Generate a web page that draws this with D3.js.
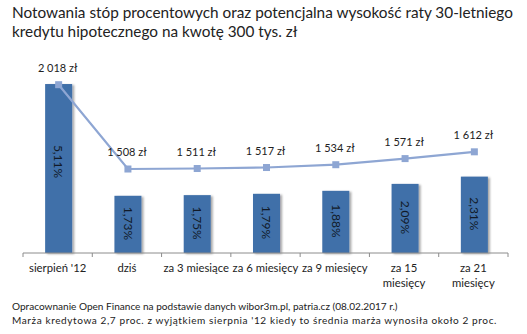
<!DOCTYPE html>
<html><head><meta charset="utf-8">
<script src="https://cdn.jsdelivr.net/npm/d3@7"></script>
<style>body{margin:0;background:#fff}svg{display:block}text{font-family:Lato,"Open Sans",sans-serif}</style>
</head><body>
<script>
const categories = ["sierpień '12","dziś","za 3 miesiące","za 6 miesięcy","za 9 miesięcy","za 15\nmiesięcy","za 21\nmiesięcy"];
const rates = [5.11,1.73,1.75,1.79,1.88,2.09,2.31];
const rateLabels = ["5,11%","1,73%","1,75%","1,79%","1,88%","2,09%","2,31%"];
const installments = [2018,1508,1511,1517,1534,1571,1612];
const installmentLabels = ["2 018 zł","1 508 zł","1 511 zł","1 517 zł","1 534 zł","1 571 zł","1 612 zł"];
const titleLines = ["Notowania stóp procentowych oraz potencjalna wysokość raty 30-letniego","kredytu hipotecznego na kwotę 300 tys. zł"];
const notes = ["Opracownanie Open Finance na podstawie danych wibor3m.pl, patria.cz  (08.02.2017 r.)","Marża kredytowa 2,7 proc. z wyjątkiem sierpnia '12 kiedy to średnia marża wynosiła około 2 proc."];

const W=527,H=334;
const svg=d3.select("body").append("svg").attr("width",W).attr("height",H);
const defs=svg.append("defs");
const f=defs.append("filter").attr("id","sh").attr("x","-20%").attr("y","-5%").attr("width","150%").attr("height","115%");
f.append("feDropShadow").attr("dx",2).attr("dy",1).attr("stdDeviation",1.2).attr("flood-color","#000").attr("flood-opacity",0.35);

function fit(sel,target){const w=sel.node().getComputedTextLength();const fs=parseFloat(sel.attr("font-size"));sel.attr("font-size",fs*target/w);}

const t1=svg.append("text").attr("x",12).attr("y",18).attr("font-size",16).attr("fill","#222").text(titleLines[0]);
fit(t1,501);
const t2=svg.append("text").attr("x",12).attr("y",37).attr("font-size",t1.attr("font-size")).attr("fill","#222").text(titleLines[1]);

const x=d3.scaleBand().domain(categories).range([23,508]).paddingInner(0.61).paddingOuter(0.305);
const xc=d3.scaleBand().domain(categories).range([23,508]);
const y=d3.scaleLinear().domain([0,6]).range([253,54.6]);
const y2=d3.scaleLinear().domain([1000,2200]).range([253,54.6]);

svg.append("g").selectAll("rect").data(rates).join("rect")
 .attr("x",(d,i)=>x(categories[i])+1).attr("width",x.bandwidth())
 .attr("y",d=>y(d)).attr("height",d=>y(0)-y(d))
 .attr("fill","#4170A9").attr("filter","url(#sh)");

svg.append("g").selectAll("text").data(rates).join("text")
 .attr("transform",(d,i)=>`translate(${x(categories[i])+1+x.bandwidth()/2},${(y(d)+y(0))/2 - (i===0?7:1)}) rotate(90)`)
 .attr("text-anchor","middle").attr("dy","0.35em").attr("font-size",12).attr("fill","#111a28")
 .text((d,i)=>rateLabels[i]);

// axis
const ax=svg.append("g").attr("transform","translate(0,253)");
ax.append("line").attr("x1",23).attr("x2",508).attr("stroke","#8c8c8c");
const bounds=categories.map(c=>xc(c)).concat([508]);
ax.selectAll("line.t").data(bounds).join("line").attr("class","t").attr("x1",d=>d).attr("x2",d=>d).attr("y1",0).attr("y2",4).attr("stroke","#8c8c8c");
const cl=svg.append("g").selectAll("text").data(categories).join("text")
 .attr("x",d=>xc(d)+xc.bandwidth()/2).attr("y",272).attr("text-anchor","middle").attr("font-size",11.3).attr("fill","#222");
cl.each(function(d){const s=d.split("\n");d3.select(this).selectAll("tspan").data(s).join("tspan").attr("x",xc(d)+xc.bandwidth()/2).attr("dy",(e,j)=>j?15:0).text(e=>e);});

// line
const cx=i=>xc(categories[i])+xc.bandwidth()/2+1;
svg.append("path").datum(installments).attr("fill","none").attr("stroke","#8EA6D3").attr("stroke-width",2.2)
 .attr("d",d3.line().x((d,i)=>cx(i)).y(d=>y2(d)));
svg.append("g").selectAll("rect").data(installments).join("rect")
 .attr("x",(d,i)=>cx(i)-3.5).attr("y",d=>y2(d)-3.5).attr("width",7).attr("height",7).attr("fill","#8EA6D3");
svg.append("g").selectAll("text").data(installments).join("text")
 .attr("x",(d,i)=>cx(i)-1).attr("y",d=>y2(d)-13).attr("text-anchor","middle").attr("font-size",11).attr("fill","#222")
 .text((d,i)=>installmentLabels[i]);

const n1=svg.append("text").attr("x",12).attr("y",310).attr("font-size",9.5).attr("fill","#222").text(notes[0]);
fit(n1,386);
const n2=svg.append("text").attr("x",12).attr("y",324).attr("font-size",n1.attr("font-size")).attr("fill","#222").text(notes[1]);
const w2=n2.node().getComputedTextLength();
n2.attr("letter-spacing",(485-w2)/notes[1].length);
</script>
</body></html>
